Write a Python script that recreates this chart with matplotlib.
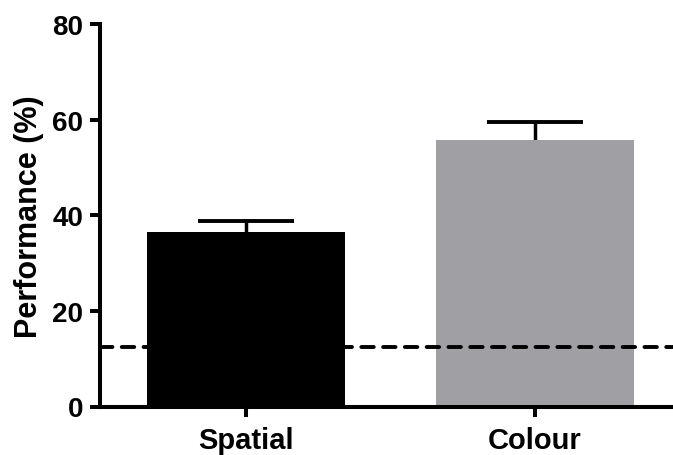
import numpy as np
import matplotlib.pyplot as plt

plt.rcParams['font.family'] = ['Liberation Sans', 'DejaVu Sans']
plt.rcParams['font.weight'] = 'bold'

groups = ['Spatial', 'Colour']
means = [36.6, 55.8]
sem_up = [2.1, 3.6]
bar_colors = ['#000000', '#a09fa4']
chance = 12.5

fig = plt.figure(figsize=(6.73, 4.56), dpi=100)
ax = fig.add_axes([100 / 673, 1 - 407.5 / 456, 573 / 673, 382.5 / 456])

x = np.arange(len(groups))
ax.bar(x, means, width=0.685, color=bar_colors, zorder=2)

# upward-only error bars: stem plus cap
tops = np.array(means) + np.array(sem_up)
ax.vlines(x, means, tops, color='black', lw=2.5, zorder=1)
ax.hlines(tops, x - 0.165, x + 0.165, color='black', lw=2.8, zorder=1)

ax.axhline(chance, color='black', lw=2.8, ls=(0, (3.2, 2.4)),
           dash_capstyle='round', zorder=3)

ax.set_xlim(-0.505, 1.478)
ax.set_ylim(0, 80)
ax.set_yticks([0, 20, 40, 60, 80])
ax.set_xticks(x)
ax.set_xticklabels(groups)

for side in ['top', 'right']:
    ax.spines[side].set_visible(False)
for side in ['left', 'bottom']:
    ax.spines[side].set_linewidth(2.9)

ax.tick_params(axis='both', width=2.9, length=7, labelsize=20, pad=5)
ax.tick_params(axis='x', labelsize=21, pad=7)
ax.set_ylabel('Performance (%)', fontsize=22, fontweight='bold', labelpad=6)

fig.savefig('out.png', dpi=100)
